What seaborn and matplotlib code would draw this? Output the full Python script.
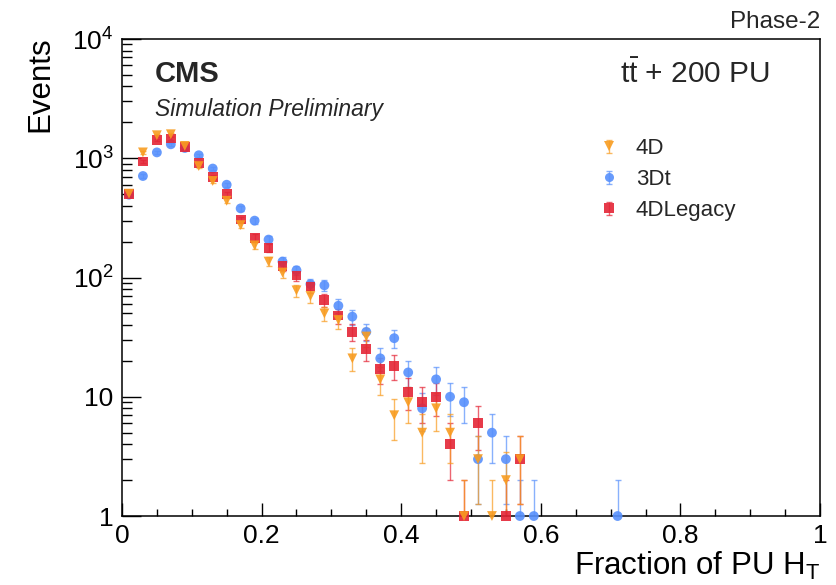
import numpy as np
import pandas as pd
import matplotlib
matplotlib.use('Agg')
import matplotlib.pyplot as plt
import seaborn as sns
from matplotlib.lines import Line2D
from matplotlib.legend_handler import HandlerErrorbar
from matplotlib.container import ErrorbarContainer
from matplotlib.ticker import FixedLocator, FixedFormatter, LogLocator, NullFormatter, MultipleLocator

# bin centres of the PU H_T fraction histogram
bin_centres = [0.01, 0.03, 0.05, 0.07, 0.09, 0.11, 0.13, 0.15, 0.17, 0.19,
               0.21, 0.23, 0.25, 0.27, 0.29, 0.31, 0.33, 0.35, 0.37, 0.39,
               0.41, 0.43, 0.45, 0.47, 0.49, 0.51, 0.53, 0.55, 0.57, 0.59,
               0.61, 0.63, 0.65, 0.67, 0.69, 0.71]
nan = np.nan
events_4d = [505, 1120, 1560, 1590, 1270, 860, 645, 440, 275, 186,
             136, 110, 78, 70, 50, 44, 21, 32, 14, 7,
             9, 5, 8, 5, 1, 3, 1, 2, 3, nan,
             nan, nan, nan, nan, nan, nan]
events_3dt = [495, 710, 1120, 1310, 1220, 1060, 820, 600, 380, 300,
              208, 136, 115, 88, 86, 58, 47, 35, 21, 31,
              16, 8, 14, 10, 9, 3, 5, 3, 1, 1,
              nan, nan, nan, nan, nan, 1]
events_4dlegacy = [505, 940, 1425, 1465, 1235, 920, 700, 500, 307, 215,
                   178, 124, 104, 84, 65, 48, 35, 25, 17, 18,
                   11, 9, 10, 4, 1, 6, nan, 1, 3, nan,
                   nan, nan, nan, nan, nan, nan]

series_names = ['4D', '3Dt', '4DLegacy']
series_colors = ['#f89c20', '#5790fc', '#e42536']
series_markers = ['v', 'o', 's']
draw_order = ['3Dt', '4DLegacy', '4D']

x_ticks = [0, 0.2, 0.4, 0.6, 0.8, 1]
x_tick_labels = ['0', '0.2', '0.4', '0.6', '0.8', '1']
y_ticks = [1, 10, 100, 1000, 10000]
y_tick_labels = ['1', '10', r'$10^{2}$', r'$10^{3}$', r'$10^{4}$']

sns.set_theme(style='ticks')
plt.rcParams['font.family'] = ['Liberation Sans', 'DejaVu Sans']
plt.rcParams['mathtext.fontset'] = 'custom'
plt.rcParams['mathtext.rm'] = 'Liberation Sans'
plt.rcParams['mathtext.it'] = 'Liberation Sans:italic'
plt.rcParams['mathtext.bf'] = 'Liberation Sans:bold'

values = {'4D': events_4d, '3Dt': events_3dt, '4DLegacy': events_4dlegacy}
frames = []
for name in draw_order:
    frames.append(pd.DataFrame({'x': bin_centres, 'events': values[name], 'sample': name}))
df = pd.concat(frames, ignore_index=True).dropna()

palette = dict(zip(series_names, series_colors))
markers = dict(zip(series_names, series_markers))

fig = plt.figure(figsize=(8.36, 5.85), dpi=100)
ax = fig.add_axes([0.1459, 0.1179, 0.8350, 0.8154])
ax.set_yscale('log')

# error bars (Poisson)
err_handles = {}
for name in draw_order:
    sub = df[df['sample'] == name]
    err_handles[name] = ax.errorbar(sub['x'], sub['events'], yerr=np.sqrt(sub['events']),
                                    fmt='none', ecolor=palette[name], elinewidth=1,
                                    capsize=2, capthick=1, alpha=0.7, zorder=2)

sns.scatterplot(data=df, x='x', y='events', hue='sample', style='sample',
                palette=palette, markers=markers, s=50, linewidth=0, alpha=0.9,
                legend=False, ax=ax, clip_on=False, zorder=3)

ax.set_xlim(0, 1)
ax.set_ylim(1, 1e4)

ax.xaxis.set_major_locator(FixedLocator(x_ticks))
ax.xaxis.set_major_formatter(FixedFormatter(x_tick_labels))
ax.xaxis.set_minor_locator(MultipleLocator(0.05))
ax.yaxis.set_major_locator(FixedLocator(y_ticks))
ax.yaxis.set_major_formatter(FixedFormatter(y_tick_labels))
ax.yaxis.set_minor_locator(LogLocator(base=10, subs=np.arange(2, 10)))
ax.yaxis.set_minor_formatter(NullFormatter())

ax.tick_params(axis='both', which='both', direction='in', color='black',
               width=1, labelsize=19, labelcolor='black')
ax.tick_params(axis='y', which='major', length=14, pad=6)
ax.tick_params(axis='y', which='minor', length=7)
ax.tick_params(axis='x', which='major', length=9.5, pad=6)
ax.tick_params(axis='x', which='minor', length=5)
for sp in ax.spines.values():
    sp.set_color('black')
    sp.set_linewidth(1.1)

ax.set_xlabel(r'Fraction of PU H$_{\mathrm{T}}$', fontsize=22.5, loc='right', color='black')
ax.xaxis.set_label_coords(1.0, -0.07)
ax.set_ylabel('Events', fontsize=22.5, loc='top', color='black')
ax.yaxis.set_label_coords(-0.095, 1.005)

ax.text(0.047, 0.910, 'CMS', transform=ax.transAxes, fontsize=21,
        fontweight='bold', va='baseline', ha='left')
ax.text(0.047, 0.838, 'Simulation Preliminary', transform=ax.transAxes,
        fontsize=16.5, style='italic', va='baseline', ha='left')
ax.text(0.928, 0.908, r'$\mathrm{t\bar{t}}$ + 200 PU', transform=ax.transAxes,
        fontsize=21.5, va='baseline', ha='right')
ax.text(1.0, 1.023, 'Phase-2', transform=ax.transAxes, fontsize=17.5,
        va='baseline', ha='right')

handles = []
for name, c, m in zip(series_names, series_colors, series_markers):
    proxy = Line2D([], [], marker=m, color=c, ls='none', markersize=6.5,
                   markeredgewidth=0, alpha=0.9)
    handles.append((err_handles[name], proxy))
ax.legend(handles, series_names, loc='upper left', bbox_to_anchor=(0.679, 0.792),
          frameon=False, fontsize=16, handlelength=1.2, handletextpad=0.6,
          labelspacing=0.45, borderpad=0, borderaxespad=0,
          handler_map={ErrorbarContainer: HandlerErrorbar(xerr_size=0.3, yerr_size=0.3)})

fig.savefig('out.png', dpi=100)
